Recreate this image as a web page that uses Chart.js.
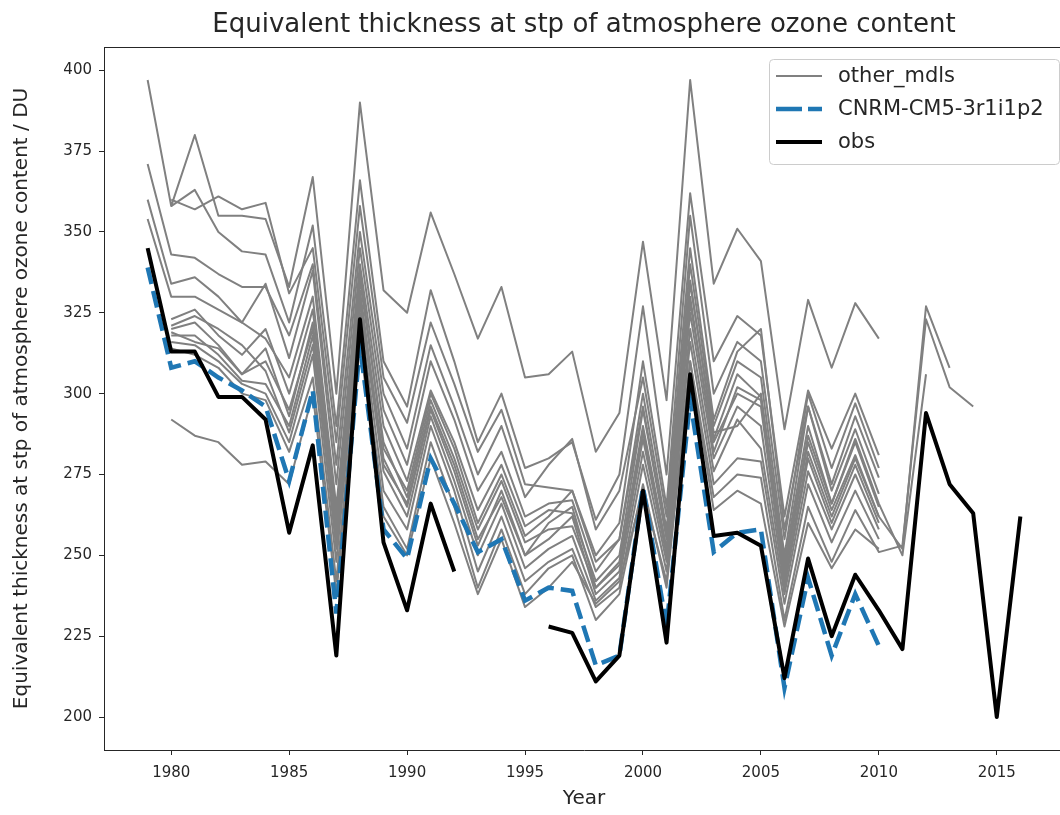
<!DOCTYPE html>
<html>
<head>
<meta charset="utf-8">
<title>Ozone content</title>
<script src="https://cdn.jsdelivr.net/npm/chart.js@4.4.1/dist/chart.umd.min.js"></script>
<style>
    html, body { margin: 0; padding: 0; background: #fff; overflow: hidden; }
    #wrap { width: 1070px; height: 815px; }
</style>
</head>
<body>
<div id="wrap"><canvas id="ozoneChart" width="1070" height="815"></canvas></div>
<script>
// ----------------------------------------------------
// data, 1979 .. 2016
// ----------------------------------------------------
const years = [1979, 1980, 1981, 1982, 1983, 1984, 1985, 1986, 1987, 1988, 1989, 1990,
    1991, 1992, 1993, 1994, 1995, 1996, 1997, 1998, 1999, 2000, 2001, 2002, 2003, 2004,
    2005, 2006, 2007, 2008, 2009, 2010, 2011, 2012, 2013, 2014, 2015, 2016];

const xTicks = [1980, 1985, 1990, 1995, 2000, 2005, 2010, 2015];
const yTicks = [200, 225, 250, 275, 300, 325, 350, 375, 400];

const obsValues = [345, 313, 313, 299, 299, 292, 257, 284, 219, 323, 254, 233, 266, 245, null, null, null,
    228, 226, 211, 219, 270, 223, 306, 256, 257, 253, 212, 249, 225, 244, 233, 221, 294, 272, 263, 200, 262];

const cnrmValues = [339, 308, 310, 305, 301, 296, 273, 301, 232, 315, 258, 249, 280, 266, 251, 255, 236,
    240, 239, 216, 219, 271, 228, 298, 251, 257, 258, 209, 243, 219, 238, 222, null, null, null, null, null, null];

// other models
const mdl01 = [397, 358, 380, 355, 355, 354, 333, 367, 300, 390, 332, 325, 356, 337, 317, 333, 305, 306, 313, 282, 294, 347, 298, 397, 334, 351, 341, 289, 329, 308, 328, 317, null, null, null, null, null, null];
const mdl02 = [null, 358, 363, 350, 344, 343, 322, 352, 290, 366, 310, 296, 332, 310, 285, 300, 277, 280, 285, 261, 275, 327, 275, 362, 310, 324, 318, 262, 301, 283, 300, 281, null, null, null, null, null, null];
const mdl03 = [null, 360, 357, 361, 357, 359, 331, 345, 285, 358, 305, 291, 322, 303, 282, 295, 272, 271, 270, 250, 260, 310, 265, 355, 300, 316, 310, 255, 300, 277, 297, 277, null, null, null, null, null, null];
const mdl04 = [371, 343, 342, 337, 333, 333, 318, 340, 278, 350, 300, 283, 315, 296, 275, 290, 268, 278, 286, 258, 270, 305, 262, 345, 292, 313, 320, 258, 296, 272, 293, 274, null, null, null, null, null, null];
const mdl05 = [360, 334, 336, 330, 322, 334, 311, 338, 272, 345, 295, 278, 310, 292, 270, 282, 262, 266, 267, 245, 255, 300, 258, 340, 290, 310, 305, 250, 296, 270, 289, 269, null, null, null, null, null, null];
const mdl06 = [354, 330, 330, 326, 322, 317, 305, 330, 265, 340, 290, 273, 301, 285, 264, 278, 259, 264, 263, 242, 250, 295, 255, 335, 286, 306, 299, 246, 287, 266, 285, 265, null, null, null, null, null, null];
const mdl07 = [null, 323, 326, 318, 312, 320, 300, 326, 262, 335, 285, 268, 298, 280, 258, 273, 254, 258, 259, 240, 248, 290, 252, 330, 282, 302, 298, 244, 285, 264, 281, 262, null, null, null, null, null, null];
const mdl08 = [null, 320, 322, 315, 306, 310, 295, 320, 258, 330, 280, 265, 295, 276, 253, 270, 250, 255, 262, 238, 245, 286, 250, 325, 280, 296, 290, 240, 280, 260, 278, 260, null, null, null, null, null, null];
const mdl09 = [null, 318, 318, 312, 304, 303, 290, 318, 252, 328, 276, 262, 293, 273, 250, 266, 246, 252, 256, 236, 243, 282, 248, 320, 276, 292, 283, 238, 276, 258, 275, 258, null, null, null, null, null, null];
const mdl10 = [null, 316, 315, 310, 303, 300, 285, 312, 248, 325, 270, 258, 290, 270, 245, 262, 242, 248, 252, 234, 240, 278, 245, 316, 272, 280, 279, 235, 272, 254, 270, 255, null, null, null, null, null, null];
const mdl11 = [null, 321, 324, 320, 315, 307, 288, 315, 255, 332, 278, 266, 296, 278, 255, 268, 250, 260, 265, 240, 247, 288, 252, 328, 285, 300, 296, 242, 282, 262, 280, 262, 252, 327, 308, null, null, null];
const mdl12 = [null, 314, 312, 308, 300, 298, 282, 305, 242, 320, 265, 252, 285, 265, 240, 258, 238, 246, 250, 230, 238, 272, 240, 310, 268, 275, 274, 230, 265, 248, 264, 251, 253, 323, 302, 296, null, null];
const mdl13 = [null, 319, 316, 314, 306, 314, 293, 322, 260, 338, 283, 270, 300, 283, 260, 275, 256, 262, 270, 248, 255, 296, 256, 334, 288, 290, 300, 248, 290, 266, 286, 266, 250, 306, null, null, null, null];
const mdl14 = [null, 292, 287, 285, 278, 279, 272, 300, 238, 315, 262, 250, 280, 260, 238, 255, 234, 240, 248, 235, 242, 270, 242, 310, 264, 270, 266, 228, 260, 246, 258, 252, null, null, null, null, null, null];

const otherMdls = [mdl01, mdl02, mdl03, mdl04, mdl05, mdl06, mdl07, mdl08, mdl09, mdl10, mdl11, mdl12, mdl13, mdl14];

const chartTitle = 'Equivalent thickness at stp of atmosphere ozone content';
const FONT = "'DejaVu Sans', sans-serif";
const TEXT = '#262626';
const GREY = '#808080';
const BLUE = '#1f77b4';

function toPoints(values) {
    return years.map((y, i) => ({ x: y, y: values[i] }));
}

// ----------------------------------------------------
// datasets: grey models below, CNRM, obs on top
// ----------------------------------------------------
const datasets = otherMdls.map((vals, i) => ({
    label: i === 0 ? 'other_mdls' : '',
    data: toPoints(vals),
    borderColor: GREY,
    borderWidth: 2,
    pointRadius: 0,
    borderJoinStyle: 'round',
    spanGaps: false,
    order: 3
}));

datasets.push({
    label: 'CNRM-CM5-3r1i1p2',
    data: toPoints(cnrmValues),
    borderColor: BLUE,
    borderWidth: 4.5,
    borderDash: [17, 7],
    pointRadius: 0,
    spanGaps: false,
    order: 2
});

datasets.push({
    label: 'obs',
    data: toPoints(obsValues),
    borderColor: '#000',
    borderWidth: 4,
    pointRadius: 0,
    borderJoinStyle: 'round',
    spanGaps: false,
    order: 1
});

// title centred on the axes, top spine, legend box inside the axes
const framePlugin = {
    id: 'frame',
    afterDraw(chart) {
        const { ctx, chartArea } = chart;
        ctx.save();
        ctx.strokeStyle = TEXT;
        ctx.lineWidth = 1;
        ctx.beginPath();
        ctx.moveTo(chartArea.left, chartArea.top + 0.5);
        ctx.lineTo(chartArea.right, chartArea.top + 0.5);
        ctx.moveTo(chartArea.right - 0.5, chartArea.top);
        ctx.lineTo(chartArea.right - 0.5, chartArea.bottom);
        ctx.stroke();

        ctx.fillStyle = TEXT;
        ctx.font = '26px ' + FONT;
        ctx.textAlign = 'center';
        ctx.textBaseline = 'middle';
        ctx.fillText(chartTitle, (chartArea.left + chartArea.right) / 2, 25);

        // legend
        const bx = 769, by = 59, bw = 290, bh = 105;
        ctx.fillStyle = 'rgba(255,255,255,0.8)';
        ctx.strokeStyle = '#cccccc';
        ctx.beginPath();
        ctx.roundRect(bx + 0.5, by + 0.5, bw, bh, 4);
        ctx.fill();
        ctx.stroke();

        const items = [
            { text: 'other_mdls', color: GREY, width: 2, dash: [], y: 76 },
            { text: 'CNRM-CM5-3r1i1p2', color: BLUE, width: 4.5, dash: [26, 6], y: 109 },
            { text: 'obs', color: '#000', width: 4, dash: [], y: 142 }
        ];
        items.forEach(it => {
            ctx.beginPath();
            ctx.setLineDash(it.dash);
            ctx.strokeStyle = it.color;
            ctx.lineWidth = it.width;
            ctx.moveTo(776, it.y);
            ctx.lineTo(822, it.y);
            ctx.stroke();
            ctx.setLineDash([]);
            ctx.fillStyle = TEXT;
            ctx.font = '21px ' + FONT;
            ctx.textBaseline = 'middle';
            ctx.textAlign = 'left';
            ctx.fillText(it.text, 838, it.y + 1);
        });
        ctx.restore();
    }
};

const ctx = document.getElementById('ozoneChart').getContext('2d');
new Chart(ctx, {
    type: 'line',
    data: { datasets },
    plugins: [framePlugin],
    options: {
        responsive: false,
        animation: false,
        devicePixelRatio: 1,
        layout: { padding: { left: 0, right: 6, top: 47, bottom: 0 } },
        plugins: {
            legend: { display: false },
            tooltip: { enabled: false },
            title: { display: false }
        },
        scales: {
            x: {
                type: 'linear',
                min: 1977.15,
                max: 2017.85,
                afterBuildTicks: s => { s.ticks = xTicks.map(v => ({ value: v })); },
                afterFit: s => { s.height = 65; },
                ticks: { color: TEXT, font: { family: FONT, size: 15 }, padding: 9, callback: v => String(v) },
                grid: { drawOnChartArea: false, drawTicks: true, tickLength: 5, tickColor: TEXT, tickWidth: 1 },
                border: { color: TEXT, width: 1 },
                title: { display: true, text: 'Year', color: TEXT, font: { family: FONT, size: 20 }, padding: { top: 0 } }
            },
            y: {
                min: 189.8,
                max: 407.2,
                afterBuildTicks: s => { s.ticks = yTicks.map(v => ({ value: v })); },
                afterFit: s => { s.width = 104; },
                ticks: { color: TEXT, font: { family: FONT, size: 15 }, padding: 7 },
                grid: { drawOnChartArea: false, drawTicks: true, tickLength: 5, tickColor: TEXT, tickWidth: 1 },
                border: { color: TEXT, width: 1 },
                title: {
                    display: true,
                    text: 'Equivalent thickness at stp of atmosphere ozone content / DU',
                    color: TEXT,
                    font: { family: FONT, size: 20 },
                    padding: { top: 10 }
                }
            }
        }
    }
});
</script>
</body>
</html>
